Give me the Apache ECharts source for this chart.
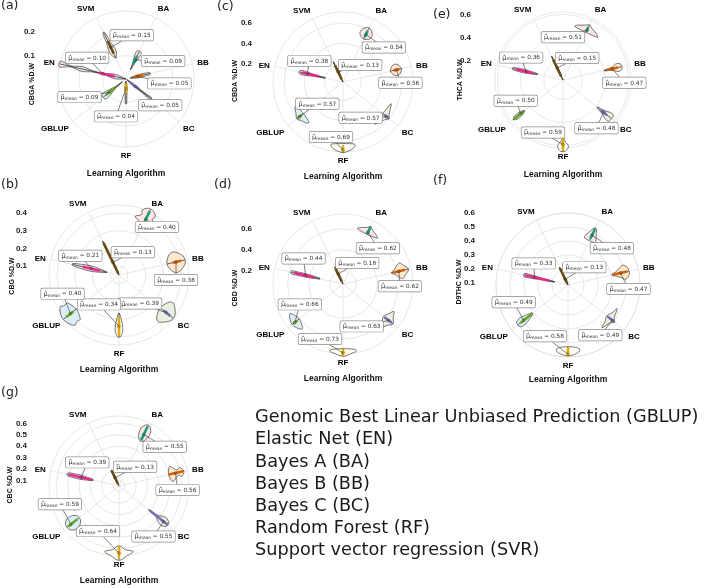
<!DOCTYPE html>
<html>
<head>
<meta charset="utf-8">
<title>Learning algorithm violins</title>
<script src="https://cdn.jsdelivr.net/npm/echarts@6/dist/echarts.min.js"></script>
<style>html,body{margin:0;padding:0;background:#fff}#container{width:709px;height:588px}</style>
</head>
<body>
<div id="container"></div>
<script type="text/javascript">
// algorithm order, clockwise from BA
var algos = ['BA', 'BB', 'BC', 'RF', 'GBLUP', 'EN', 'SVM'];
var boxColors = ['#1B9E77', '#D95F02', '#7570B3', '#E6AB02', '#66A61E', '#E7298A', '#6b4a12'];
var fillColors = ['#fbe6e4', '#fde9d2', '#e8f2de', '#fffdf2', '#ddeef8', '#f5e4f0', '#f6efe2'];

// (a) CBGA
var meanA = [0.09, 0.05, 0.05, 0.04, 0.09, 0.10, 0.15];
var rangeA = [[0.045, 0.13], [0.02, 0.105], [0.005, 0.135], [0.01, 0.105], [0.02, 0.123], [0.0, 0.29], [0.10, 0.22]];
var boxA = [[0.07, 0.11], [0.035, 0.075], [0.02, 0.07], [0.02, 0.06], [0.06, 0.11], [0.05, 0.12], [0.12, 0.18]];
var widthA = [[0.01, 0.05, 0.08, 0.11, 0.08], [0.06, 0.14, 0.12, 0.08, 0.04], [0.12, 0.10, 0.06, 0.04, 0.05],
  [0.08, 0.16, 0.08, 0.05, 0.03], [0.01, 0.05, 0.09, 0.14, 0.11], [0.02, 0.22, 0.03, 0.02, 0.06, 0.01, 0.05],
  [0.02, 0.12, 0.10, 0.05, 0.04, 0.02]];

// (b) CBG
var meanB = [0.40, 0.38, 0.39, 0.34, 0.40, 0.21, 0.13];
var rangeB = [[0.37, 0.46], [0.33, 0.43], [0.35, 0.44], [0.265, 0.40], [0.36, 0.45], [0.12, 0.32], [0.05, 0.26]];
var boxB = [[0.38, 0.45], [0.36, 0.41], [0.37, 0.42], [0.29, 0.39], [0.38, 0.43], [0.16, 0.26], [0.06, 0.25]];
var widthB = [[0.04, 0.2, 0.1, 0.12, 0.05], [0.05, 0.18, 0.2, 0.15, 0.05], [0.06, 0.2, 0.22, 0.15, 0.05],
  [0.01, 0.05, 0.07, 0.08, 0.07, 0.02], [0.05, 0.2, 0.18, 0.2, 0.06], [0.03, 0.1, 0.1, 0.06, 0.02],
  [0.01, 0.02, 0.02, 0.02, 0.01]];

// (c) CBDA
var meanC = [0.54, 0.56, 0.57, 0.69, 0.57, 0.38, 0.13];
var rangeC = [[0.49, 0.61], [0.50, 0.61], [0.52, 0.60], [0.64, 0.715], [0.52, 0.60], [0.20, 0.46], [0.02, 0.24]];
var boxC = [[0.51, 0.58], [0.53, 0.59], [0.54, 0.59], [0.65, 0.71], [0.54, 0.59], [0.27, 0.44], [0.05, 0.2]];
var widthC = [[0.02, 0.12, 0.13, 0.10, 0.03], [0.02, 0.10, 0.12, 0.10, 0.02], [0.02, 0.28, 0.15, 0.05, 0.01],
  [0.20, 0.21, 0.18, 0.12, 0.02], [0.05, 0.22, 0.20, 0.08, 0.02], [0.02, 0.03, 0.04, 0.06, 0.04],
  [0.01, 0.03, 0.03, 0.02, 0.01]];

// (d) CBD
var meanD = [0.62, 0.62, 0.63, 0.73, 0.66, 0.44, 0.18];
var rangeD = [[0.60, 0.68], [0.55, 0.71], [0.57, 0.68], [0.69, 0.76], [0.61, 0.69], [0.30, 0.58], [0.076, 0.255]];
var boxD = [[0.6, 0.67], [0.57, 0.68], [0.58, 0.67], [0.69, 0.76], [0.63, 0.68], [0.36, 0.55], [0.1, 0.24]];
var widthD = [[0.02, 0.22, 0.15, 0.05, 0.01], [0.02, 0.05, 0.12, 0.15, 0.08, 0.02], [0.03, 0.12, 0.2, 0.08, 0.02],
  [0.05, 0.2, 0.22, 0.12, 0.03], [0.04, 0.14, 0.18, 0.14, 0.04], [0.02, 0.04, 0.05, 0.04, 0.03],
  [0.01, 0.03, 0.03, 0.02, 0.01]];

// (e) THCA
var meanE = [0.51, 0.47, 0.48, 0.59, 0.50, 0.36, 0.15];
var rangeE = [[0.49, 0.56], [0.40, 0.55], [0.415, 0.565], [0.52, 0.65], [0.46, 0.58], [0.26, 0.48], [0.035, 0.26]];
var boxE = [[0.5, 0.54], [0.42, 0.52], [0.45, 0.52], [0.53, 0.64], [0.47, 0.57], [0.3, 0.45], [0.07, 0.23]];
var widthE = [[0.02, 0.26, 0.2, 0.08, 0.01], [0.01, 0.02, 0.04, 0.08, 0.05], [0.02, 0.03, 0.05, 0.08, 0.07],
  [0.01, 0.02, 0.05, 0.09, 0.08, 0.03], [0.01, 0.04, 0.045, 0.04, 0.01], [0.02, 0.04, 0.05, 0.04, 0.02],
  [0.02, 0.03, 0.03, 0.02, 0.01]];

// (f) D9THC
var meanF = [0.48, 0.47, 0.49, 0.58, 0.49, 0.33, 0.13];
var rangeF = [[0.443, 0.535], [0.41, 0.53], [0.44, 0.51], [0.53, 0.59], [0.41, 0.54], [0.184, 0.407], [0.085, 0.224]];
var boxF = [[0.45, 0.53], [0.42, 0.52], [0.45, 0.5], [0.53, 0.59], [0.42, 0.52], [0.22, 0.4], [0.1, 0.22]];
var widthF = [[0.13, 0.12, 0.08, 0.05, 0.02], [0.02, 0.05, 0.1, 0.14, 0.06], [0.02, 0.12, 0.25, 0.05, 0.01],
  [0.1, 0.2, 0.18, 0.05], [0.02, 0.05, 0.07, 0.08, 0.05], [0.02, 0.03, 0.04, 0.05, 0.04],
  [0.01, 0.03, 0.03, 0.02, 0.01]];

// (g) CBC
var meanG = [0.55, 0.56, 0.55, 0.64, 0.59, 0.39, 0.13];
var rangeG = [[0.49, 0.64], [0.50, 0.633], [0.385, 0.595], [0.58, 0.70], [0.50, 0.63], [0.283, 0.513], [0.053, 0.205]];
var boxG = [[0.5, 0.63], [0.5, 0.63], [0.4, 0.6], [0.58, 0.68], [0.52, 0.62], [0.3, 0.5], [0.07, 0.2]];
var widthG = [[0.03, 0.09, 0.1, 0.09, 0.03], [0.05, 0.16, 0.1, 0.05, 0.08, 0.02], [0.01, 0.01, 0.02, 0.07, 0.09, 0.04],
  [0.04, 0.1, 0.24, 0.12, 0.03], [0.05, 0.12, 0.13, 0.12, 0.05], [0.02, 0.05, 0.06, 0.05, 0.03],
  [0.01, 0.03, 0.03, 0.02, 0.01]];

var legendLines = ['Genomic Best Linear Unbiased Prediction (GBLUP)', 'Elastic Net (EN)', 'Bayes A (BA)',
  'Bayes B (BB)', 'Bayes C (BC)', 'Random Forest (RF)', 'Support vector regression (SVR)'];

var panels = [
  {mean: meanA, range: rangeA, box: boxA, width: widthA},
  {mean: meanB, range: rangeB, box: boxB, width: widthB},
  {mean: meanC, range: rangeC, box: boxC, width: widthC},
  {mean: meanD, range: rangeD, box: boxD, width: widthD},
  {mean: meanE, range: rangeE, box: boxE, width: widthE},
  {mean: meanF, range: rangeF, box: boxF, width: widthF},
  {mean: meanG, range: rangeG, box: boxG, width: widthG}
];

// layout only: centres, radii, axis ranges, label placement
var layouts = [
  {letter: '(a)', lx: 1, ly: 6, name: 'CBGA %D.W', tx: 32, ty: 84, labR: 35, cx: 126, cy: 79, R: 68, r0: 0, r1: 0.29, ticks: [0.1, 0.2],
    off: [[28, 1], [32, 7], [25, 19], [-10, 28], [-30, 5], [-16, -16], [21, -12]]},
  {letter: '(b)', lx: 1, ly: 185, name: 'CBG %D.W', tx: 12, ty: 276, labR: 27, cx: 119, cy: 275, R: 70, r0: 0.05, r1: 0.445, ticks: [0.1, 0.2, 0.3, 0.4],
    off: [[11, 8], [0, 18], [-26, -9], [-20, -22], [-8, -20], [-11, -13], [20, -10]]},
  {letter: '(c)', lx: 217, ly: 7, name: 'CBDA %D.W', tx: 235, ty: 81, labR: 252, cx: 343, cy: 82, R: 70, r0: 0.02, r1: 0.71, ticks: [0.2, 0.4, 0.6],
    off: [[18, 13], [4, 13], [-26, 1], [-12, -13], [18, -13], [2, -13], [22, -7]]},
  {letter: '(d)', lx: 214, ly: 185, name: 'CBD %D.W', tx: 235, ty: 288, labR: 252, cx: 343, cy: 284, R: 70, r0: 0.075, r1: 0.74, ticks: [0.2, 0.4, 0.6],
    off: [[10, 16], [1, 15], [-27, 6], [-23, -14], [5, -18], [-2, -17], [19, -11]]},
  {letter: '(e)', lx: 433, ly: 15, name: 'THCA %D.W', tx: 460, ty: 80, labR: 471, cx: 563, cy: 80, R: 68, r0: 0.035, r1: 0.62, ticks: [0.2, 0.4, 0.6],
    off: [[-24, 7], [12, 14], [-7, 16], [-20, -12], [-5, -13], [-5, -14], [20, -10]]},
  {letter: '(f)', lx: 433, ly: 181, name: 'D9THC %D.W', tx: 459, ty: 282, labR: 475, cx: 568, cy: 285, R: 72, r0: 0.085, r1: 0.6, ticks: [0.1, 0.2, 0.3, 0.4, 0.5, 0.6],
    off: [[20, 13], [8, 16], [-12, 15], [-23, -18], [-10, -18], [-1, -14], [19, -12]]},
  {letter: '(g)', lx: 1, ly: 393, name: 'CBC %D.W', tx: 10, ty: 485, labR: 27, cx: 119, cy: 486, R: 70, r0: 0.05, r1: 0.665, ticks: [0.1, 0.2, 0.3, 0.4, 0.5, 0.6],
    off: [[21, 12], [2, 17], [-10, 15], [-21, -22], [-11, -20], [6, -15], [20, -11]]}
];

var gridColor = '#e2e2e2';
var boldFont = 'Liberation Sans';

function makeRender(p, lay) {
  return function (params, api) {
    var i = params.dataIndex;
    var lo = p.range[i][0], hi = p.range[i][1], ws = p.width[i];
    var n = ws.length, left = [], right = [];
    for (var k = 0; k < n; k++) {
      var r = lo + (hi - lo) * k / (n - 1);
      left.push(api.coord([r, i - ws[k]]));
      right.unshift(api.coord([r, i + ws[k]]));
    }
    var a0 = api.coord([lo, i]), a1 = api.coord([hi, i]);
    var b0 = api.coord([p.box[i][0], i]), b1 = api.coord([p.box[i][1], i]);
    var m = api.coord([p.mean[i], i]);
    var lx = m[0] + lay.off[i][0], ly = m[1] + lay.off[i][1];
    return {
      type: 'group',
      children: [
        {type: 'polygon', shape: {points: left.concat(right), smooth: 0.3},
          style: {fill: fillColors[i], stroke: '#222', lineWidth: 0.6}},
        {type: 'line', shape: {x1: a0[0], y1: a0[1], x2: a1[0], y2: a1[1]},
          style: {stroke: '#222', lineWidth: 0.7}},
        {type: 'line', shape: {x1: b0[0], y1: b0[1], x2: b1[0], y2: b1[1]},
          style: {stroke: boxColors[i], lineWidth: 2.6}},
        {type: 'circle', shape: {cx: m[0], cy: m[1], r: 1.4}, style: {fill: boxColors[i], stroke: '#222', lineWidth: 0.3}},
        {type: 'line', shape: {x1: m[0], y1: m[1], x2: lx, y2: ly},
          style: {stroke: '#333', lineWidth: 0.6}},
        {type: 'text', x: lx, y: ly,
          style: {
            text: '{h|\u03bc\u0302}{s|mean}{t| = ' + p.mean[i].toFixed(2) + '}',
            align: 'center', verticalAlign: 'middle',
            backgroundColor: '#fff', borderColor: '#8a8a8a', borderWidth: 0.7, borderRadius: 1.5,
            padding: [2, 2.5, 1.5, 2.5],
            rich: {
              h: {fontSize: 6.5, fill: '#333', fontFamily: 'DejaVu Sans'},
              s: {fontSize: 4.3, fill: '#333', fontFamily: 'DejaVu Sans', verticalAlign: 'bottom'},
              t: {fontSize: 5.8, fill: '#333', fontFamily: 'DejaVu Sans'}
            }
          }}
      ]
    };
  };
}

var dom = document.getElementById('container');
var myChart = echarts.init(dom, null, {renderer: 'canvas'});

var graphics = [];
layouts.forEach(function (l) {
  graphics.push({type: 'text', x: l.lx, y: l.ly,
    style: {text: l.letter, fill: '#222', font: '12.5px "DejaVu Sans"', textAlign: 'left', textVerticalAlign: 'middle', align: 'left', verticalAlign: 'middle'}});
  graphics.push({type: 'text', x: l.tx, y: l.ty, rotation: Math.PI / 2,
    style: {text: l.name, fill: '#111', font: 'bold 7px "Liberation Sans"', textAlign: 'center', textVerticalAlign: 'middle', align: 'center', verticalAlign: 'middle'}});
  graphics.push({type: 'text', x: l.cx, y: l.cy + 95,
    style: {text: 'Learning Algorithm', fill: '#111', font: 'bold 8.5px "Liberation Sans"', textAlign: 'center', textVerticalAlign: 'middle', align: 'center', verticalAlign: 'middle'}});
});
legendLines.forEach(function (t, j) {
  graphics.push({type: 'text', x: 255, y: 417.5 + j * 22.2,
    style: {text: t, fill: '#1a1a1a', font: '17.7px "DejaVu Sans"', textAlign: 'left', textVerticalAlign: 'middle', align: 'left', verticalAlign: 'middle'}});
});

var option = {
  animation: false,
  backgroundColor: '#fff',
  polar: layouts.map(function (l) { return {center: [l.cx, l.cy], radius: l.R}; }),
  angleAxis: layouts.map(function (l, k) {
    return {
      polarIndex: k, type: 'value', min: 0, max: 7, interval: 1,
      startAngle: 90 - 180 / 7, clockwise: true,
      axisLine: {show: true, lineStyle: {color: gridColor, width: 0.8}},
      axisTick: {show: false},
      splitLine: {show: true, lineStyle: {color: gridColor, width: 0.8}},
      axisLabel: {margin: 5, color: '#000', fontWeight: 'bold', fontSize: 8, fontFamily: boldFont,
        formatter: function (v) { return algos[v] || ''; }}
    };
  }),
  radiusAxis: layouts.map(function (l, k) {
    return {
      polarIndex: k, type: 'value', min: l.r0, max: l.r1,
      axisLine: {show: false}, axisLabel: {show: false},
      axisTick: {show: false, customValues: l.ticks},
      splitLine: {show: true, lineStyle: {color: gridColor, width: 0.8}}
    };
  }),
  grid: layouts.map(function (l) { return {left: l.labR, top: l.cy - l.R, width: 1, height: l.R}; }),
  xAxis: layouts.map(function (l, k) { return {gridIndex: k, type: 'value', show: false}; }),
  yAxis: layouts.map(function (l, k) {
    return {
      gridIndex: k, type: 'value', min: l.r0, max: l.r1,
      axisLine: {show: false}, axisTick: {show: false}, splitLine: {show: false},
      axisLabel: {customValues: l.ticks, margin: 0, color: '#1a1a1a', fontWeight: 'bold', fontSize: 8, fontFamily: boldFont,
        formatter: function (v) { return v.toFixed(1); }}
    };
  }),
  series: panels.map(function (p, k) {
    return {
      type: 'custom', coordinateSystem: 'polar', polarIndex: k, silent: true, clip: false,
      data: algos.map(function (a, i) { return [p.mean[i], i]; }),
      renderItem: makeRender(p, layouts[k])
    };
  }),
  graphic: graphics
};

if (option && typeof option === 'object') {
  myChart.setOption(option);
}
</script>
</body>
</html>
